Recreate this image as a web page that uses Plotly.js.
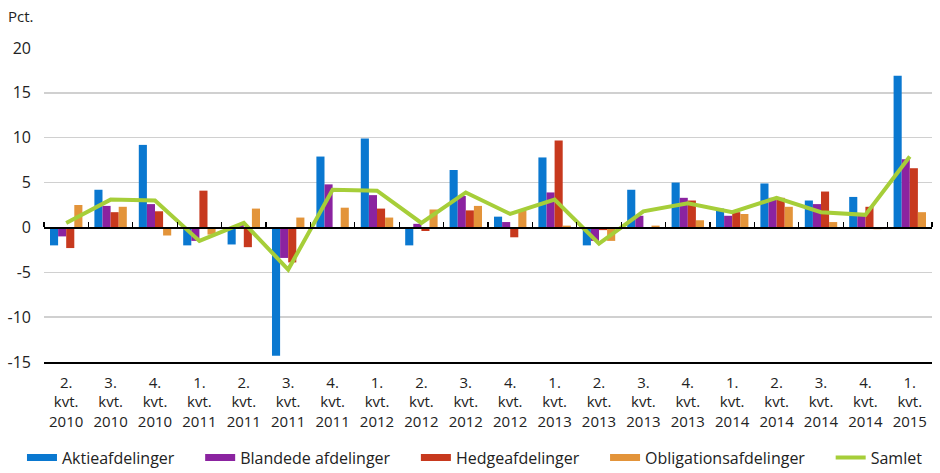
<!DOCTYPE html>
<html>
<head>
<meta charset="utf-8">
<script src="https://cdn.plot.ly/plotly-3.0.1.min.js"></script>
<style>html,body{margin:0;padding:0;background:#fff;}#chart{width:940px;height:473px;}</style>
</head>
<body>
<div id="chart"></div>
<script>
var categories = ["2.<br>kvt.<br>2010","3.<br>kvt.<br>2010","4.<br>kvt.<br>2010","1.<br>kvt.<br>2011","2.<br>kvt.<br>2011","3.<br>kvt.<br>2011","4.<br>kvt.<br>2011","1.<br>kvt.<br>2012","2.<br>kvt.<br>2012","3.<br>kvt.<br>2012","4.<br>kvt.<br>2012","1.<br>kvt.<br>2013","2.<br>kvt.<br>2013","3.<br>kvt.<br>2013","4.<br>kvt.<br>2013","1.<br>kvt.<br>2014","2.<br>kvt.<br>2014","3.<br>kvt.<br>2014","4.<br>kvt.<br>2014","1.<br>kvt.<br>2015"];
var aktie       = [-2.0, 4.2, 9.2, -2.0, -1.9, -14.3, 7.9, 9.9, -2.0, 6.4, 1.2, 7.8, -2.0, 4.2, 5.0, 2.1, 4.9, 3.0, 3.4, 16.9];
var blandede    = [-1.0, 2.4, 2.6, -1.5, 0.3, -3.4, 4.8, 3.6, 0.4, 3.5, 0.6, 3.9, -1.5, 1.3, 3.3, 1.3, 3.3, 2.6, 1.6, 7.6];
var hedge       = [-2.3, 1.7, 1.8, 4.1, -2.2, -3.9, 0.0, 2.1, -0.4, 1.9, -1.1, 9.7, -0.3, 0.0, 3.0, 1.7, 3.3, 4.0, 2.3, 6.6];
var obligation  = [2.5, 2.3, -0.9, -0.8, 2.1, 1.1, 2.2, 1.1, 2.0, 2.4, 1.9, 0.2, -1.5, 0.2, 0.8, 1.5, 2.3, 0.6, -0.2, 1.7];
var samlet      = [0.5, 3.1, 3.0, -1.5, 0.5, -4.7, 4.2, 4.1, 0.5, 3.9, 1.5, 3.1, -1.8, 1.8, 2.7, 1.7, 3.3, 1.7, 1.4, 7.9];
var seriesNames = ["Aktieafdelinger","Blandede afdelinger","Hedgeafdelinger","Obligationsafdelinger","Samlet"];
var colors = ["#0a78d0","#8b23a0","#c7391e","#e3943a","#a6ce39"];
var yTicks = [-15,-10,-5,0,5,10,15,20];

var idx = categories.map(function(c,i){return i;});
var barData = [aktie, blandede, hedge, obligation];
var traces = [];
barData.forEach(function(vals, k){
  traces.push({type:'bar', x: idx, y: vals, name: seriesNames[k], marker:{color: colors[k]}, showlegend:false, hoverinfo:'y'});
});
traces.push({type:'scatter', mode:'lines', x: idx, y: samlet, name: seriesNames[4], line:{color: colors[4], width:4}, showlegend:false});
// legend entries (trailing non-breaking spaces widen the gap between entries)
var pad = '\u00a0\u00a0\u00a0\u00a0\u00a0';
seriesNames.forEach(function(n,k){
  traces.push({type:'scatter', mode:'lines', x:[null], y:[null], name: n + (k<4?pad:''), line:{color:colors[k], width: k<4?7:4}, showlegend:true, hoverinfo:'skip'});
});
// dummy for top axis
traces.push({type:'scatter', mode:'markers', x:[null], y:[null], xaxis:'x2', showlegend:false, hoverinfo:'skip'});

var font = "'Open Sans', 'Noto Sans', sans-serif";
var boundaries = [];
for (var i=0;i<=categories.length;i++) boundaries.push(i-0.5);

var layout = {
  width:940, height:473,
  margin:{l:44, r:8, t:48, b:111, autoexpand:false},
  paper_bgcolor:'#fff', plot_bgcolor:'#fff',
  font:{family:font, size:15, color:'#222'},
  barmode:'group', bargap:0.27, bargroupgap:0,
  xaxis:{type:'linear', range:[-0.5, categories.length-0.5], tickvals: idx, ticktext: categories,
         showgrid:false, zeroline:false, showline:true, linecolor:'#000', linewidth:1.5, ticks:'',
         ticklabelstandoff:6, tickfont:{size:15, color:'#222'}, fixedrange:true},
  xaxis2:{type:'linear', overlaying:'x', anchor:'free', position: 15/35, side:'top',
          range:[-0.5, categories.length-0.5], tickvals: boundaries, showticklabels:false,
          ticks:'outside', ticklen:5, tickcolor:'#000', tickwidth:1.3,
          showgrid:false, zeroline:false, showline:true, linecolor:'#000', linewidth:1.5},
  yaxis:{range:[-15,20], tickvals:yTicks, ticktext: yTicks.map(String), showgrid:true, gridcolor:'#d0d0d0', gridwidth:1.3,
         zeroline:false, showline:false, ticks:'', ticklabelstandoff:12, tickfont:{size:16, color:'#222'}},
  legend:{orientation:'h', x:-0.0248, xanchor:'left', y:-0.25, yanchor:'top', font:{size:16, color:'#222'}, itemwidth:30, tracegroupgap:0},
  annotations:[{text:'Pct.', xref:'paper', yref:'paper', x:-0.043, y:1.065, xanchor:'left', yanchor:'bottom', showarrow:false, font:{size:15, color:'#222'}}]
};
Plotly.newPlot('chart', traces, layout, {displayModeBar:false, staticPlot:true});
</script>
</body>
</html>
